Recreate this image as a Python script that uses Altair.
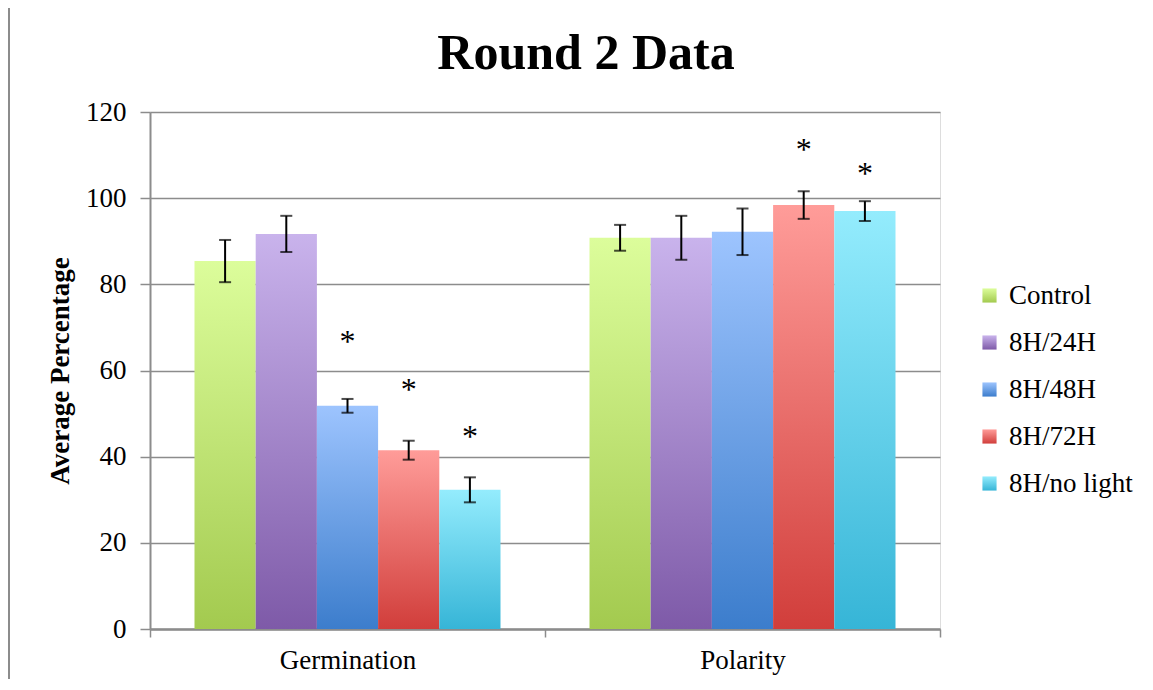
import altair as alt
import pandas as pd

title_text = ["Round 2 Data"]
groups = ["Germination", "Polarity"]
series = ["Control", "8H/24H", "8H/48H", "8H/72H", "8H/no light"]
germ_mean = [85.4, 91.7, 51.8, 41.5, 32.3]
germ_err = [4.9, 4.2, 1.6, 2.2, 2.9]
pol_mean = [90.8, 90.8, 92.2, 98.4, 97.0]
pol_err = [3.0, 5.1, 5.4, 3.2, 2.3]
germ_star = [None, None, 67.8, 56.6, 45.7]
pol_star = [None, None, None, 112.3, 106.7]
y_ticks = [0, 20, 40, 60, 80, 100, 120]

grad_top = ["#dcfd9b", "#c9b3ec", "#9dc4fe", "#ff9c99", "#94ecfd"]
grad_bot = ["#a3ca4f", "#7e5aa8", "#3c7dcc", "#d13e3b", "#36b5d7"]

rows = []
for g, means, errs, stars in [("Germination", germ_mean, germ_err, germ_star),
                               ("Polarity", pol_mean, pol_err, pol_star)]:
    for s, m, e, st in zip(series, means, errs, stars):
        rows.append({"group": g, "series": s, "mean": m, "lo": m - e, "hi": m + e,
                     "star": st})
df = pd.DataFrame(rows)


def grad_expr(top, bot):
    return {"expr": "{gradient:'linear',x1:0,y1:0,x2:0,y2:1,stops:[{offset:0,color:'%s'},{offset:1,color:'%s'}]}" % (top, bot)}


color_range = [grad_expr(t, b) for t, b in zip(grad_top, grad_bot)]

FONT = "Liberation Serif"

x_enc = alt.X("group:N", sort=groups,
              scale=alt.Scale(paddingInner=0, paddingOuter=0),
              axis=alt.Axis(title=None, labelAngle=0, tickBand="extent",
                            labelFontSize=27, labelFont=FONT, labelColor="black",
                            labelPadding=10, tickSize=8, tickWidth=1.5,
                            tickColor="#8c8c8c", domainColor="#8c8c8c",
                            domainWidth=2.5, grid=False))
xo_enc = alt.XOffset("series:N", sort=series,
                     scale=alt.Scale(paddingInner=0, paddingOuter=0.727))
y_scale = alt.Scale(domain=[0, 120], nice=False)

base = alt.Chart(df)

bars = base.mark_bar().encode(
    x=x_enc,
    xOffset=xo_enc,
    y=alt.Y("mean:Q", scale=y_scale,
            axis=alt.Axis(values=y_ticks, title="Average Percentage",
                          titleFont=FONT, titleFontSize=27, titleFontWeight="bold",
                          titleColor="black", titleX=-90, titleBaseline="middle",
                          labelFont=FONT, labelFontSize=27, labelColor="black",
                          labelPadding=14, tickSize=10, tickWidth=1.5,
                          tickColor="#8c8c8c", domainColor="#8c8c8c", domainWidth=2,
                          grid=True, gridColor="#8c8c8c", gridWidth=1.5)),
    color=alt.Color("series:N", sort=series,
                    scale=alt.Scale(domain=series, range=color_range),
                    legend=alt.Legend(title=None, orient="none", legendX=826,
                                      legendY=170, labelFont=FONT, labelFontSize=27,
                                      labelColor="black", symbolType="square",
                                      symbolSize=200, symbolStrokeWidth=0,
                                      labelOffset=6, rowPadding=19)),
)

rule = base.mark_rule(color="black", strokeWidth=2).encode(
    x=x_enc, xOffset=xo_enc, y="lo:Q", y2="hi:Q")
cap_lo = base.mark_tick(color="black", thickness=2, size=12).encode(
    x=x_enc, xOffset=xo_enc, y="lo:Q")
cap_hi = base.mark_tick(color="black", thickness=2, size=12).encode(
    x=x_enc, xOffset=xo_enc, y="hi:Q")

stars = base.transform_filter("isValid(datum.star)").mark_text(
    text="*", font=FONT, fontSize=32, color="black", baseline="alphabetic", dy=15
).encode(x=x_enc, xOffset=xo_enc, y="star:Q")

title = alt.Chart(alt.Data(values=[{"t": title_text[0]}])).mark_text(
    font=FONT, fontSize=50, fontWeight="bold", color="black",
    align="center", baseline="alphabetic").encode(
    text="t:N", x=alt.value(436), y=alt.value(-43))

border = alt.Chart(alt.Data(values=[{"a": 1}])).mark_rule(
    color="#8c8c8c", strokeWidth=2).encode(
    x=alt.value(-141), y=alt.value(-104), y2=alt.value(570))

chart = alt.layer(bars, rule, cap_lo, cap_hi, stars, title, border).properties(
    width=790, height=517,
    autosize=alt.AutoSizeParams(type="none"),
    padding={"left": 142, "top": 104, "right": 205, "bottom": 50},
).configure_view(stroke=None).configure(background="white")

chart.save("out.html", embed_options={"renderer": "svg", "actions": False})
